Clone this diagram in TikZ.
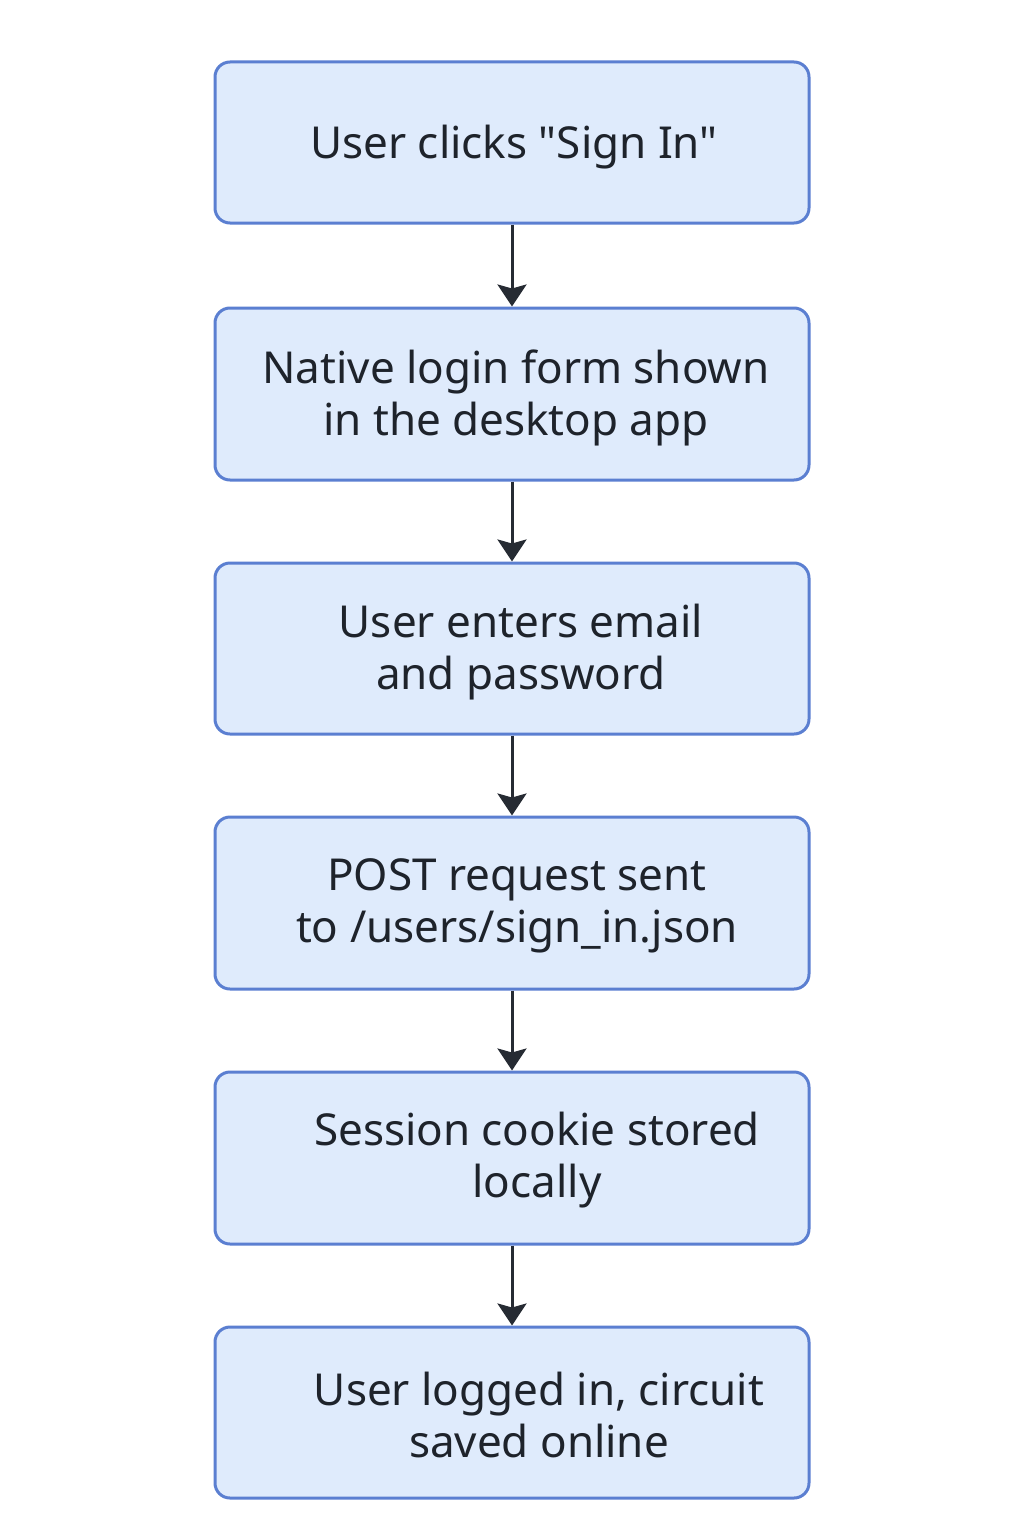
\documentclass[tikz,border=0pt]{standalone}
\usepackage{fontspec}
\setmainfont{Noto Sans}[Ligatures=TeXOff]
\usetikzlibrary{arrows.meta}
\definecolor{boxfill}{HTML}{DFEBFC}
\definecolor{boxline}{HTML}{5B7FD1}
\definecolor{arrowcol}{HTML}{262B33}
\definecolor{textcol}{HTML}{1E232B}
\begin{document}
\begin{tikzpicture}[x=0.5pt,y=-0.5pt,
  stepbox/.style={draw=boxline,fill=boxfill,line width=1.5pt,rounded corners=7.5pt,minimum width=297pt,inner sep=0pt},
  steptext/.style={text=textcol,font=\fontsize{22}{26}\selectfont,align=center,inner sep=0pt},
  flow/.style={draw=arrowcol,line width=1.5pt,-{Stealth[length=11pt,width=14.5pt,inset=2pt]}}]
\useasboundingbox (0,0) rectangle (1024,1536);
\fill[white] (0,0) rectangle (1024,1536);
\node[stepbox,minimum height=80.5pt] (b1) at (512,142.5) {};
\node[stepbox,minimum height=86pt] (b2) at (512,394) {};
\node[stepbox,minimum height=85.5pt] (b3) at (512,648.5) {};
\node[stepbox,minimum height=86pt] (b4) at (512,903) {};
\node[stepbox,minimum height=86pt] (b5) at (512,1158) {};
\node[stepbox,minimum height=85.5pt] (b6) at (512,1412.5) {};
\node[steptext] (t1) at (514,147) {User clicks "Sign In"};
\node[steptext] (t2) at (516,398) {Native login form shown\\in the desktop app};
\node[steptext] (t3) at (521,652) {User enters email\\and password};
\node[steptext] (t4) at (517,906) {POST request sent\\to /users/sign\_in.json};
\node[steptext] (t5) at (537,1160) {Session cookie stored\\locally};
\node[steptext] (t6) at (539,1415) {User logged in, circuit\\saved online};
\draw[flow] (b1) -- (b2);
\draw[flow] (b2) -- (b3);
\draw[flow] (b3) -- (b4);
\draw[flow] (b4) -- (b5);
\draw[flow] (b5) -- (b6);
\end{tikzpicture}
\end{document}
